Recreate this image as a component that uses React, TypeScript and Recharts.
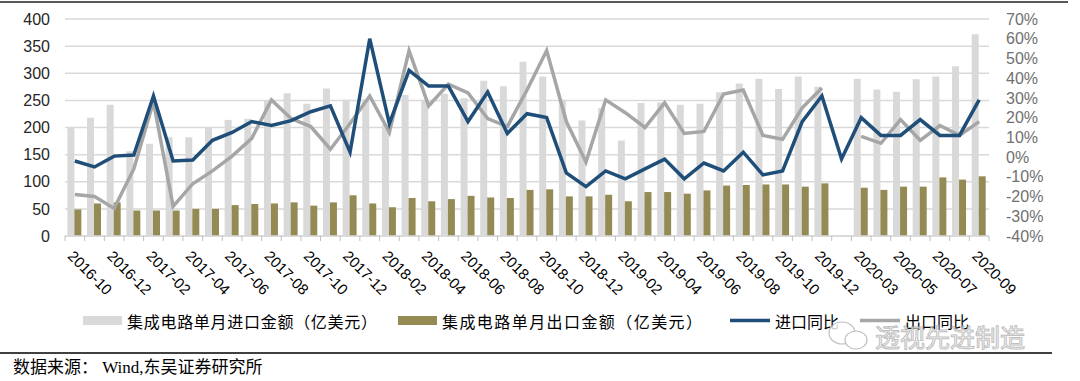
import { ComposedChart, Bar, Line, XAxis, YAxis, CartesianGrid } from 'recharts';

// 月份（2020年1-2月合并为一个点）
const months = [
  '2016-10', '2016-11', '2016-12', '2017-01', '2017-02', '2017-03', '2017-04', '2017-05',
  '2017-06', '2017-07', '2017-08', '2017-09', '2017-10', '2017-11', '2017-12', '2018-01',
  '2018-02', '2018-03', '2018-04', '2018-05', '2018-06', '2018-07', '2018-08', '2018-09',
  '2018-10', '2018-11', '2018-12', '2019-01', '2019-02', '2019-03', '2019-04', '2019-05',
  '2019-06', '2019-07', '2019-08', '2019-09', '2019-10', '2019-11', '2019-12', '2020-02',
  '2020-03', '2020-04', '2020-05', '2020-06', '2020-07', '2020-08', '2020-09',
];

// 集成电路单月进口金额(亿美元)
const importAmount = [
  200, 218, 242, 156, 170, 182, 182, 200, 214, 216, 250, 263, 244, 272, 251, 252,
  205, 260, 251, 262, 254, 286, 276, 321, 294, 251, 213, 236, 176, 245, 246, 242,
  244, 265, 281, 290, 271, 294, 275, null, 290, 270, 266, 289, 294, 313, 372,
];

// 集成电路单月出口金额(亿美元)
const exportAmount = [
  49, 60, 62, 47, 47, 47, 50, 50, 57, 59, 60, 62, 56, 62, 75, 60,
  53, 70, 64, 68, 74, 71, 70, 85, 86, 73, 73, 76, 64, 81, 81, 78,
  84, 93, 94, 95, 95, 91, 97, null, 89, 85, 91, 91, 108, 104, 110,
];

// 进口同比 (%)
const importYoY = [
  -2, -5, 0.5, 1, 31, -2, -1.5, 8.5, 12.5, 18, 16, 18.5, 23, 26, 2.5, 60,
  17, 44, 36, 36, 18, 33, 12, 22, 20, -8, -15, -7, -11, -6, -1, -11,
  -3, -7, 2.5, -9, -7, 18, 31, -1, 20, 11, 11, 19, 11, 11, 29,
];

// 出口同比 (%)
const exportYoY = [
  -19, -20, -26, -6, 28, -25, -13.5, -7, 0.5, 9.5, 29, 19.5, 15.5, 4, 17, 31,
  12.5, 54, 26, 37, 32.5, 19.5, 15.5, 34, 54, 18, -2.5, 29, 22.5, 15, 27.5, 12,
  13, 32, 34, 11, 9, 25, 35, null, 10.5, 7, 19, 8.5, 16, 11, 18,
];

const leftTicks = [0, 50, 100, 150, 200, 250, 300, 350, 400];
const rightTicks = [-40, -30, -20, -10, 0, 10, 20, 30, 40, 50, 60, 70];

const data = months.map((month, i) => ({
  month,
  importAmount: importAmount[i],
  exportAmount: exportAmount[i],
  importYoY: importYoY[i],
  exportYoY: exportYoY[i],
}));

const PLOT_W = 924;
const STEP = PLOT_W / months.length;

const CJK = '"Noto Sans CJK SC", sans-serif';

function MonthTick(props: any) {
  const { x, y, index, payload } = props;
  const axisY = y - 8;
  const tx = x - 8;
  const ty = axisY + 21;
  return (
    <g>
      <line x1={x - STEP / 2} x2={x - STEP / 2} y1={axisY} y2={axisY + 5} stroke="#bfbfbf" />
      {index === months.length - 1 && (
        <line x1={x + STEP / 2} x2={x + STEP / 2} y1={axisY} y2={axisY + 5} stroke="#bfbfbf" />
      )}
      {index % 2 === 0 && (
        <text
          x={tx}
          y={ty}
          transform={`rotate(45, ${tx}, ${ty})`}
          textAnchor="start"
          fontSize={15}
          fill="#000"
          fontFamily='"Liberation Sans", Arial, sans-serif'
        >
          {payload.value}
        </text>
      )}
    </g>
  );
}

export default function App() {
  return (
    <div
      style={{
        position: 'absolute',
        left: 0,
        top: 0,
        width: 1080,
        height: 381,
        background: '#fff',
        overflow: 'hidden',
      }}
    >
      <ComposedChart
        width={1080}
        height={310}
        data={data}
        margin={{ top: 19, right: 0, bottom: 0, left: 0 }}
        barCategoryGap="12%"
        barGap={0}
      >
        <CartesianGrid yAxisId="left" vertical={false} stroke="#d9d9d9" strokeWidth={1.5} />
        <XAxis
          dataKey="month"
          interval={0}
          height={74}
          tick={<MonthTick />}
          tickLine={false}
          axisLine={{ stroke: '#d9d9d9', strokeWidth: 1.5 }}
        />
        <YAxis
          yAxisId="left"
          orientation="left"
          width={65}
          domain={[0, 400]}
          ticks={leftTicks}
          interval={0}
          tickLine={false}
          axisLine={false}
          tickMargin={9}
          tick={{ fontSize: 16, fill: '#262626', fontFamily: '"Liberation Sans", Arial, sans-serif' }}
        />
        <YAxis
          yAxisId="right"
          orientation="right"
          width={91}
          domain={[-40, 70]}
          ticks={rightTicks}
          interval={0}
          tickFormatter={(v: number) => `${v}%`}
          tickLine={false}
          axisLine={false}
          tickMargin={11}
          tick={{ fontSize: 16, fill: '#707070', fontFamily: '"Liberation Sans Narrow", "Liberation Sans", sans-serif' }}
        />
        <Bar yAxisId="left" dataKey="importAmount" fill="#d9d9d9" isAnimationActive={false} />
        <Bar yAxisId="left" dataKey="exportAmount" fill="#948a54" isAnimationActive={false} />
        <Line
          yAxisId="right"
          type="linear"
          dataKey="exportYoY"
          stroke="#a6a6a6"
          strokeWidth={3.5}
          dot={false}
          isAnimationActive={false}
        />
        <Line
          yAxisId="right"
          type="linear"
          dataKey="importYoY"
          stroke="#1f4e79"
          strokeWidth={3.5}
          dot={false}
          isAnimationActive={false}
        />
      </ComposedChart>

      <svg
        width={1080}
        height={381}
        style={{ position: 'absolute', left: 0, top: 0, pointerEvents: 'none' }}
      >
        <line x1={0} x2={1068} y1={2} y2={2} stroke="#595959" strokeWidth={2} />

        <rect x={83} y={316} width={39} height={9} fill="#d9d9d9" />
        <text x={127} y={321} dominantBaseline="central" fontSize={16} fontFamily={CJK} fill="#000" textLength={250}>
          集成电路单月进口金额（亿美元）
        </text>
        <rect x={398} y={316} width={39} height={9} fill="#948a54" />
        <text x={442} y={321} dominantBaseline="central" fontSize={16} fontFamily={CJK} fill="#000" textLength={260}>
          集成电路单月出口金额（亿美元）
        </text>
        <line x1={730} x2={770} y1={320.5} y2={320.5} stroke="#1f4e79" strokeWidth={3.5} />
        <text x={775} y={321} dominantBaseline="central" fontSize={16} fontFamily={CJK} fill="#000">
          进口同比
        </text>
        <line x1={860} x2={900} y1={320.5} y2={320.5} stroke="#a6a6a6" strokeWidth={3.5} />
        <text x={905} y={321} dominantBaseline="central" fontSize={16} fontFamily={CJK} fill="#000">
          出口同比
        </text>

        <g opacity={0.8}>
          <ellipse cx={842} cy={333} rx={13} ry={11} fill="#fff" stroke="#b0b0b0" strokeWidth={1.2} />
          <ellipse cx={856} cy={340} rx={11} ry={9} fill="#fff" stroke="#b0b0b0" strokeWidth={1.2} />
          <text
            x={875}
            y={336}
            dominantBaseline="central"
            fontSize={25}
            fontFamily={CJK}
            fill="#fff"
            stroke="#b0b0b0"
            strokeWidth={1}
          >
            透视先进制造
          </text>
        </g>

        <line x1={0} x2={1052} y1={353} y2={353} stroke="#404040" strokeWidth={2} />
        <text
          x={13}
          y={367}
          dominantBaseline="central"
          fontSize={17}
          fontFamily={`"Liberation Serif", ${CJK}`}
          fill="#000"
        >
          数据来源： Wind,东吴证券研究所
        </text>
      </svg>
    </div>
  );
}
